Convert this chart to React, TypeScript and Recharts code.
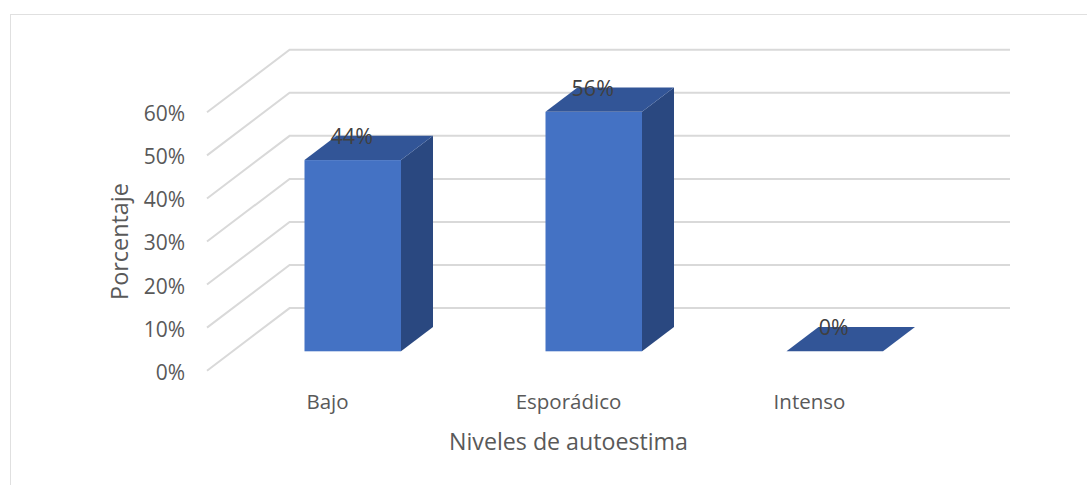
import { BarChart, Bar, XAxis, YAxis, CartesianGrid, LabelList } from "recharts";

const categories = ["Bajo", "Esporádico", "Intenso"];
const percentages = [44.4, 55.6, 0];
const yTicks = [0, 10, 20, 30, 40, 50, 60];

const chartData = categories.map((name, i) => ({ name, value: percentages[i] }));

const FONT = "'Open Sans', sans-serif";

// pseudo 3D offsets, same look as the office chart
const WALL_DX = 82.6;
const WALL_DY = 62.6;
const WALL_LENGTH = 803;
const BAR_DX = 25.5;
const BAR_DY = 19.4;
const DEPTH_X = 32;
const DEPTH_Y = 24.4;

function WallLine(props: any) {
  const { x1, y1 } = props;
  return (
    <path
      key={props.key ?? y1}
      d={`M${x1},${y1} L${x1 + WALL_DX},${y1 - WALL_DY} L${x1 + WALL_LENGTH},${y1 - WALL_DY}`}
      fill="none"
      stroke="#D9D9D9"
      strokeWidth={2}
    />
  );
}

function Bar3D(props: any) {
  const { x, y, width, height } = props;
  const left = x + BAR_DX;
  const right = left + width;
  const top = y - BAR_DY;
  const bottom = top + height;
  return (
    <g>
      {height > 0 && <rect x={left} y={top} width={width} height={height} fill="#4472C4" />}
      {height > 0 && (
        <polygon
          points={`${right},${top} ${right + DEPTH_X},${top - DEPTH_Y} ${right + DEPTH_X},${bottom - DEPTH_Y} ${right},${bottom}`}
          fill="#2A4880"
        />
      )}
      <polygon
        points={`${left},${top} ${left + DEPTH_X},${top - DEPTH_Y} ${right + DEPTH_X},${top - DEPTH_Y} ${right},${top}`}
        fill="#325597"
      />
    </g>
  );
}

function BarValue(props: any) {
  const { x, y, width, value } = props;
  return (
    <text
      x={x + BAR_DX + width / 2 - 1}
      y={y - BAR_DY - DEPTH_Y}
      textAnchor="middle"
      dominantBaseline="central"
      fontFamily={FONT}
      fontSize={21.5}
      fill="#404040"
    >
      {Math.round(value)}%
    </text>
  );
}

export default function App() {
  return (
    <div style={{ position: "absolute", left: 0, top: 0, width: 1087, height: 485, background: "#fff", overflow: "hidden" }}>
      <div
        style={{
          position: "absolute",
          left: 10,
          top: 14,
          width: 1100,
          height: 500,
          borderLeft: "1.5px solid #E0E0E0",
          borderTop: "1.5px solid #E0E0E0",
        }}
      />
      <div style={{ position: "absolute", left: 0, top: 0 }}>
        <BarChart
          width={1087}
          height={485}
          data={chartData}
          margin={{ top: 112.3, right: 157, bottom: 20, left: 100 }}
          barSize={96.5}
        >
          <CartesianGrid vertical={false} horizontal={WallLine} />
          <XAxis
            dataKey="name"
            height={94.3}
            axisLine={false}
            tickLine={false}
            tickMargin={18}
            tick={{ fill: "#595959", fontSize: 20.5, fontFamily: FONT }}
            label={{
              value: "Niveles de autoestima",
              position: "insideBottom",
              offset: 15,
              style: { fill: "#595959", fontSize: 23.2, fontFamily: FONT },
            }}
          />
          <YAxis
            type="number"
            width={107}
            domain={[0, 60]}
            ticks={yTicks}
            axisLine={false}
            tickLine={false}
            tickMargin={16}
            tickFormatter={(v: number) => `${v}%`}
            tick={{ fill: "#595959", fontSize: 21, fontFamily: FONT, dy: 1.5 }}
            label={{
              value: "Porcentaje",
              angle: -90,
              position: "insideLeft",
              offset: 20,
              style: { fill: "#595959", fontSize: 23.4, fontFamily: FONT, textAnchor: "middle" },
            }}
          />
          <Bar dataKey="value" shape={Bar3D} isAnimationActive={false}>
            <LabelList dataKey="value" content={BarValue} />
          </Bar>
        </BarChart>
      </div>
    </div>
  );
}
